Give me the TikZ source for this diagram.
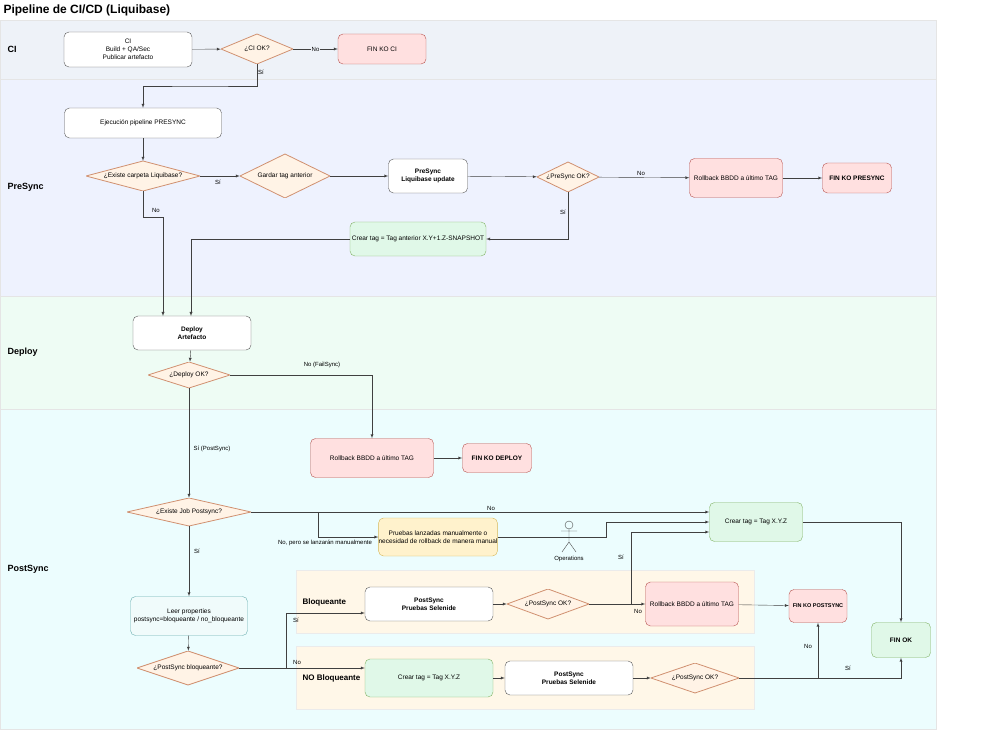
\documentclass[tikz,border=0pt]{standalone}
\usepackage{fontspec}
\setmainfont{Liberation Sans}
\usetikzlibrary{shapes.geometric,calc}
\definecolor{laneci}{HTML}{EEF2F8}
\definecolor{lanepre}{HTML}{EEF2FE}
\definecolor{lanedep}{HTML}{EEFCF4}
\definecolor{lanepost}{HTML}{ECFDFE}
\definecolor{subl}{HTML}{FFF7E8}
\definecolor{koF}{HTML}{FFE0E0}
\definecolor{koD}{HTML}{B85450}
\definecolor{okF}{HTML}{E0F8E8}
\definecolor{okD}{HTML}{82B366}
\definecolor{qF}{HTML}{FFF3E6}
\definecolor{qD}{HTML}{D09070}
\definecolor{yF}{HTML}{FFF2CC}
\definecolor{yD}{HTML}{D6B656}
\definecolor{tF}{HTML}{F0FBFB}
\definecolor{tD}{HTML}{6AAFB0}
\tikzset{
  box/.style={draw=black!65, fill=white, rounded corners=5pt, align=center, font=\fontsize{6.5}{8}\selectfont, inner sep=0pt},
  ko/.style={box, fill=koF, draw=koD},
  ok/.style={box, fill=okF, draw=okD},
  ask/.style={inner sep=0pt, font=\fontsize{6.5}{8}\selectfont,
    path picture={
      \filldraw[draw=qD, fill=qF, line width=0.8pt]
        (path picture bounding box.west) -- (path picture bounding box.north)
        -- (path picture bounding box.east) -- (path picture bounding box.south) -- cycle;}},
  lbl/.style={font=\fontsize{6}{7}\selectfont},
  lane/.style={font=\bfseries\fontsize{9}{10}\selectfont, anchor=west},
  sublane/.style={font=\bfseries\fontsize{8}{9}\selectfont, anchor=west},
  flow/.style={draw=black!75, -latex},
}
\begin{document}
\begin{tikzpicture}[x=1pt, y=-1pt]
\useasboundingbox (0,0) rectangle (986,730);

% Carriles
\fill[laneci] (0,20) rectangle (936,79);
\fill[lanepre] (0,79) rectangle (936,296);
\fill[lanedep] (0,296) rectangle (936,409);
\fill[lanepost] (0,409) rectangle (936,729);
\draw[black!10] (0,20) rectangle (936,729);
\draw[black!10] (0,79) -- (936,79) (0,296) -- (936,296) (0,409) -- (936,409);
\fill[subl, draw=black!8] (296,570) rectangle (754,633);
\fill[subl, draw=black!8] (296,646) rectangle (754,709);

\node[anchor=west, font=\bfseries\fontsize{12}{14}\selectfont] at (0,10) {Pipeline de CI/CD (Liquibase)};
\node[lane] at (4,49) {CI};
\node[lane] at (4,187) {PreSync};
\node[lane] at (4,352) {Deploy};
\node[lane] at (4,569) {PostSync};
\node[sublane] at (299,602) {Bloqueante};
\node[sublane] at (299,678) {NO Bloqueante};

% CI
\node[box, minimum width=128, minimum height=35] (ci) at (128,49.5) {CI\\Build + QA/Sec\\Publicar artefacto};
\node[ask, minimum width=72, minimum height=30] (ciok) at (257,49) {¿CI OK?};
\node[ko, minimum width=88, minimum height=30] (finci) at (382,49) {FIN KO CI};

% PreSync
\node[box, minimum width=157, minimum height=30] (exec) at (143,123) {Ejecución pipeline PRESYNC};
\node[ask, minimum width=114, minimum height=30] (carpeta) at (143,176) {¿Existe carpeta Liquibase?};
\node[ask, minimum width=90, minimum height=44] (guardar) at (285,176) {Gardar tag anterior};
\node[box, minimum width=79, minimum height=34, font=\bfseries\fontsize{6.5}{8}\selectfont] (update) at (428,176) {PreSync\\Liquibase update};
\node[ask, minimum width=62, minimum height=30] (preok) at (568,177) {¿PreSync OK?};
\node[ko, minimum width=93, minimum height=39] (rbpre) at (736,178) {Rollback BBDD a último TAG};
\node[ko, minimum width=69, minimum height=30, font=\bfseries\fontsize{6.5}{8}\selectfont] (finpre) at (857,178) {FIN KO PRESYNC};
\node[ok, minimum width=136, minimum height=34] (snap) at (418,239) {Crear tag = Tag anterior X.Y+1.Z-SNAPSHOT};

% Deploy
\node[box, minimum width=118, minimum height=34, font=\bfseries\fontsize{6.5}{8}\selectfont] (deploy) at (192,333) {Deploy\\Artefacto};
\node[ask, minimum width=82, minimum height=26] (depok) at (189,375) {¿Deploy OK?};
\node[ko, minimum width=123, minimum height=39] (rbdep) at (372,458) {Rollback BBDD a último TAG};
\node[ko, minimum width=69, minimum height=29, font=\bfseries\fontsize{6.5}{8}\selectfont] (findep) at (497,458) {FIN KO DEPLOY};

% PostSync
\node[ask, minimum width=124, minimum height=28] (job) at (189,512) {¿Existe Job Postsync?};
\node[box, fill=yF, draw=yD, minimum width=117, minimum height=38] (manual) at (438,537) {Pruebas lanzadas manualmente o\\necesidad de rollback de manera manual};
\node[ok, minimum width=93, minimum height=39] (tagok) at (756,522) {Crear tag = Tag X.Y.Z};
\node[box, fill=tF, draw=tD, minimum width=117, minimum height=39] (props) at (189,616) {Leer properties\\postsync=bloqueante / no\_bloqueante};
\node[ask, minimum width=102, minimum height=34] (bloq) at (188,668) {¿PostSync bloqueante?};
\node[box, minimum width=128, minimum height=34, font=\bfseries\fontsize{6.5}{8}\selectfont] (sel1) at (429,604) {PostSync\\Pruebas Selenide};
\node[ask, minimum width=82, minimum height=30] (ok1) at (548,604) {¿PostSync OK?};
\node[ko, minimum width=93, minimum height=44] (rbpost) at (692,604) {Rollback BBDD a último TAG};
\node[ko, minimum width=58, minimum height=33, font=\bfseries\fontsize{5.5}{7}\selectfont] (finpost) at (818,606) {FIN KO POSTSYNC};
\node[ok, minimum width=59, minimum height=35, font=\bfseries\fontsize{6.5}{8}\selectfont] (finok) at (901,640) {FIN OK};
\node[ok, minimum width=128, minimum height=38] (tag2) at (429,678) {Crear tag = Tag X.Y.Z};
\node[box, minimum width=128, minimum height=34, font=\bfseries\fontsize{6.5}{8}\selectfont] (sel2) at (569,678) {PostSync\\Pruebas Selenide};
\node[ask, minimum width=88, minimum height=30] (ok2) at (695,678) {¿PostSync OK?};

% Operations
\coordinate (ops) at (569,537);
\draw[black!70] (569,525) circle (4);
\draw[black!70] (569,529) -- (569,542) (561,531) -- (577,531) (562,552) -- (569,542) -- (576,552);
\node[lbl] at (569,559) {Operations};

% Conectores
\draw[flow] (ci) -- (ciok);
\draw[flow] (ciok) -- node[lbl, fill=laneci, inner sep=1pt] {No} (finci);
\draw[flow] (ciok.south) |- (200,86) -| (exec.north);
\draw[flow] (exec) -- (carpeta);
\draw[flow] (carpeta) -- (guardar);
\draw[flow] (carpeta.south) |- (163,217) -- (163,316);
\draw[flow] (guardar) -- (update);
\draw[flow] (update) -- (preok);
\draw[flow] (preok) -- (rbpre);
\draw[flow] (rbpre) -- (finpre);
\draw[flow] (preok.south) |- (snap.east);
\draw[flow] (snap.west) -| (191,316);
\draw[flow] (deploy) -- (depok);
\draw[flow] (depok.east) -| (rbdep.north);
\draw[flow] (rbdep) -- (findep);
\draw[flow] (depok) -- (job);
\draw[flow] (job.east) -- (tagok.west |- job.east);
\draw[flow] (318,512) |- (manual.west);
\draw[black!75] (manual) -- (ops);
\draw[flow] (ops) -- (606,537) |- (tagok.west);
\draw[flow] (job) -- (props);
\draw[flow] (props) -- (bloq);
\draw[flow] (bloq.east) -- (286,668) |- ($(sel1.west)+(0,9)$);
\draw[flow] (286,668) -- ($(tag2.west)+(0,-10)$);
\draw[flow] (sel1) -- (ok1);
\draw[flow] (ok1) -- (rbpost);
\draw[flow] (631,604) |- ($(tagok.west)+(0,10)$);
\draw[flow] (rbpost) -- (finpost);
\draw[flow] (tagok.east) -| (finok.north);
\draw[flow] (tag2) -- (sel2);
\draw[flow] (sel2) -- (ok2);
\draw[flow] (ok2.east) -| (finok.south);
\draw[flow] (818,678) -- (finpost.south);

% Etiquetas
\node[lbl] at (261,72) {Sí};
\node[lbl] at (218,182) {Sí};
\node[lbl] at (156,210) {No};
\node[lbl] at (641,173) {No};
\node[lbl] at (563,212) {Sí};
\node[lbl] at (322,365) {No (FailSync)};
\node[lbl] at (212,449) {Sí (PostSync)};
\node[lbl] at (491,508) {No};
\node[lbl] at (325,543) {No, pero se lanzarán manualmente};
\node[lbl] at (197,551) {Sí};
\node[lbl] at (296,620) {Sí};
\node[lbl] at (297,662) {No};
\node[lbl] at (621,557) {Sí};
\node[lbl] at (638,611) {No};
\node[lbl] at (808,646) {No};
\node[lbl] at (848,668) {Sí};
\end{tikzpicture}
\end{document}
